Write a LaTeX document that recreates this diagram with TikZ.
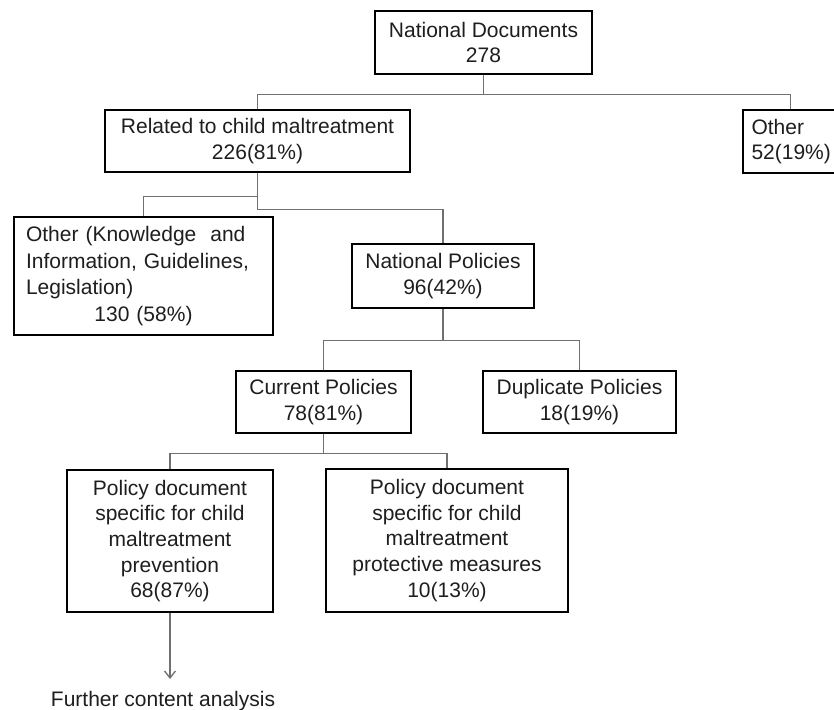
\documentclass[tikz,border=0pt]{standalone}
\usepackage{fontspec}
\setmainfont{Liberation Sans}
\usetikzlibrary{arrows.meta}
\definecolor{conncol}{RGB}{112,112,112}
\definecolor{txtcol}{RGB}{30,30,30}
\tikzset{
  box/.style={draw=black, line width=2.9pt, inner sep=0pt, align=center, text=txtcol,
    font=\fontsize{21}{25.7}\selectfont},
  conn/.style={draw=conncol, line width=1.3pt},
  plain/.style={inner sep=0pt, text=txtcol, font=\fontsize{21}{25.7}\selectfont}
}
\begin{document}
\begin{tikzpicture}[x=1pt,y=-1pt]
\useasboundingbox (0,0) rectangle (834,709);
\fill[white] (0,0) rectangle (834,709);

\node[box, minimum width=217, minimum height=63] (nd) at (483.5,42.5) {National Documents\\278};
\node[box, minimum width=305, minimum height=62] (rel) at (257.5,141) {Related to child maltreatment\\226(81\%)};
\node[box, minimum width=95, minimum height=63, align=left, text width=78, inner xsep=8.5pt] (oth) at (790.5,141.5) {Other\\52(19\%)};
\node[box, minimum height=118, align=left, text width=235, inner xsep=12pt, font=\fontsize{21}{26.6}\selectfont] (ok) at (143.5,276)
  {Other (Knowledge\ \ and\\Information, Guidelines,\\Legislation)\\\makebox[\linewidth][c]{130 (58\%)}};
\node[box, minimum width=182, minimum height=64] (np) at (443,276) {National Policies\\96(42\%)};
\node[box, minimum width=175, minimum height=62] (cp) at (323.5,402) {Current Policies\\78(81\%)};
\node[box, minimum width=193, minimum height=62] (dup) at (579.5,402) {Duplicate Policies\\18(19\%)};
\node[box, minimum width=206, minimum height=142] (lp) at (170,541)
  {Policy document\\specific for child\\maltreatment\\prevention\\68(87\%)};
\node[box, minimum width=242, minimum height=143] (rp) at (447,540.5)
  {Policy document\\specific for child\\maltreatment\\protective measures\\10(13\%)};
\node[plain, anchor=base] (fca) at (163,706) {Further content analysis};
\coordinate (tip) at (170,679);

\draw[conn] (nd.south) -- ++(0,19) -| (rel.north);
\draw[conn] (nd.south) -- ++(0,19) -| (oth.north);
\draw[conn] (rel.south) -- ++(0,23) -| (ok.north);
\draw[conn] (rel.south) -- ++(0,36) -| (np.north);
\draw[conn] (np.south) -- ++(0,31) -| (cp.north);
\draw[conn] (np.south) -- ++(0,31) -| (dup.north);
\draw[conn] (cp.south) -- ++(0,19) -| (lp.north);
\draw[conn] (cp.south) -- ++(0,19) -| (rp.north);
\draw[conn, -{Straight Barb[length=7pt,width=11pt]}] (lp.south) -- (tip);
\end{tikzpicture}
\end{document}
